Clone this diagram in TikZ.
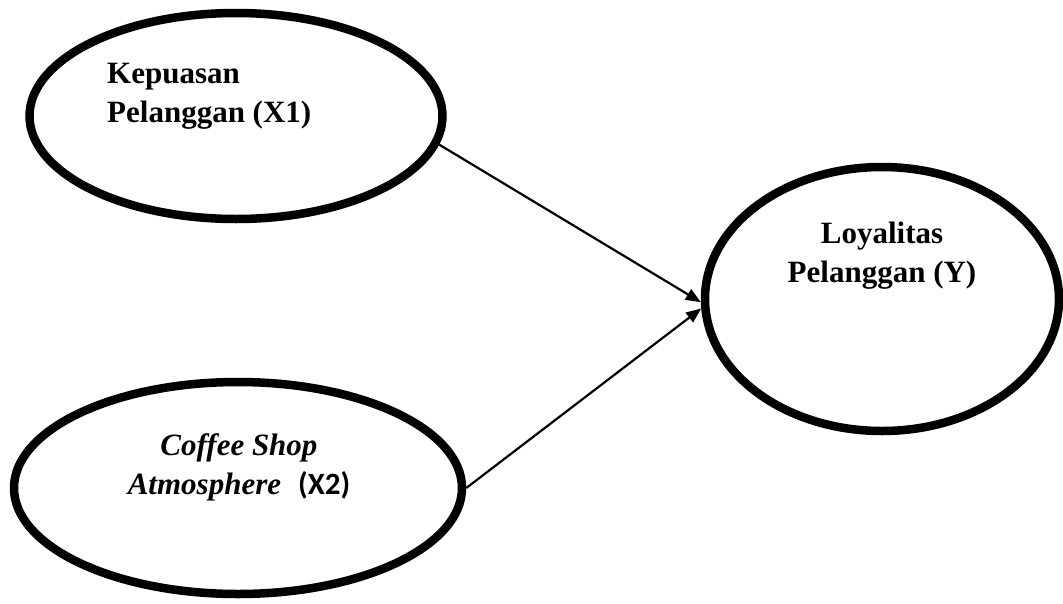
\documentclass[tikz,border=0pt]{standalone}
\usepackage{fontspec}
\setmainfont{Liberation Serif}
\newfontfamily\calibrilike{Carlito}
\usetikzlibrary{shapes.geometric,arrows.meta}
\tikzset{
  construct/.style={draw=black, line width=8.5pt, ellipse, inner sep=0pt},
  label/.style={inner sep=0pt, font=\fontsize{31}{39}\selectfont\bfseries},
  path/.style={draw=black, line width=2.2pt, -{Triangle[length=15pt,width=12pt]}}
}
\begin{document}
\begin{tikzpicture}[x=1pt,y=-1pt]
\useasboundingbox (0,0) rectangle (1063,603);
\node[construct, minimum width=413pt, minimum height=206pt] (X1) at (236,116) {};
\node[construct, minimum width=448pt, minimum height=212pt] (X2) at (238,488) {};
\node[construct, minimum width=354pt, minimum height=264pt] (Y) at (882,299) {};
\node[label, align=left, anchor=north west] (tX1) at (107,62.5) {Kepuasan\\Pelanggan (X1)};
\node[label, align=center, anchor=north] (tY) at (882,222) {Loyalitas\\Pelanggan (Y)};
\node[label, align=center, anchor=north] (tX2) at (239,433) {\itshape Coffee Shop\\\itshape Atmosphere\hspace{17pt}{\upshape\calibrilike\bfseries (X2)}};
\draw[path] (X1.-8) -- (Y.181);
\draw[path] (X2.east) -- (Y.183);
\end{tikzpicture}
\end{document}
